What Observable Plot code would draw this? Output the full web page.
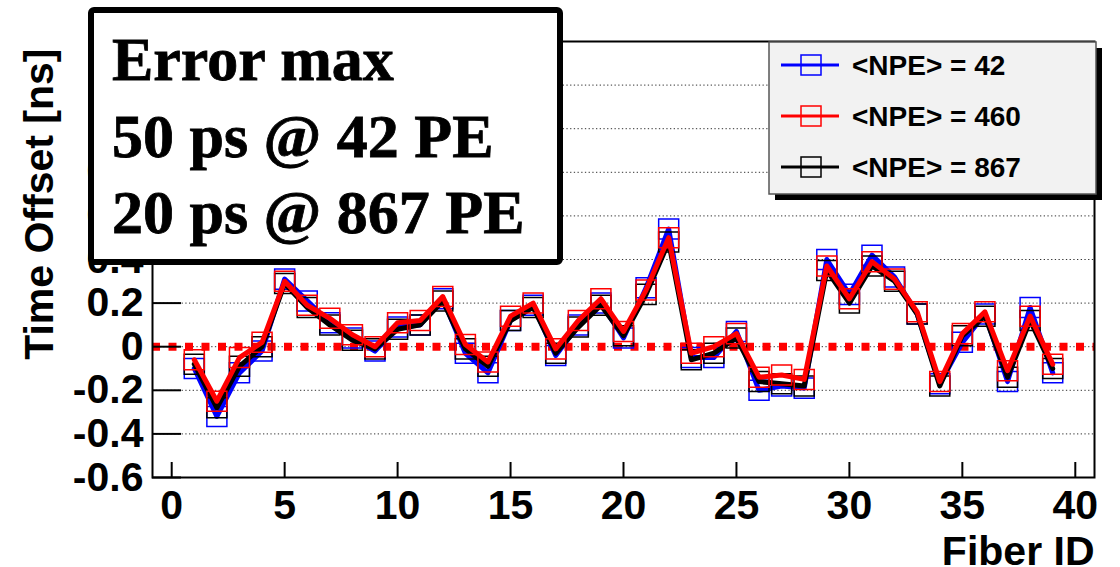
<!DOCTYPE html>
<html><head><meta charset="utf-8">
<script src="https://cdn.jsdelivr.net/npm/d3@7"></script>
<script src="https://cdn.jsdelivr.net/npm/@observablehq/plot@0.6"></script>
<style>html,body{margin:0;padding:0;background:#fff;} #chart{width:1120px;height:567px;overflow:hidden;}</style>
</head><body><div id="chart"></div>
<script>
const fiberIds = [1,2,3,4,5,6,7,8,9,10,11,12,13,14,15,16,17,18,19,20,21,22,23,24,25,26,27,28,29,30,31,32,33,34,35,36,37,38,39];
const npe42  = [-0.10,-0.32,-0.12,-0.02,0.31,0.21,0.11,0.04,-0.02,0.09,0.10,0.22,-0.03,-0.12,0.12,0.19,-0.04,0.10,0.20,0.04,0.27,0.54,-0.05,-0.05,0.07,-0.20,-0.18,-0.19,0.40,0.24,0.42,0.32,0.15,-0.17,0.02,0.15,-0.16,0.18,-0.12];
const npe460 = [-0.06,-0.25,-0.05,0.02,0.30,0.19,0.13,0.055,0.00,0.11,0.12,0.23,0.01,-0.07,0.14,0.20,-0.01,0.12,0.22,0.07,0.26,0.50,-0.03,0.00,0.06,-0.14,-0.13,-0.15,0.37,0.22,0.39,0.31,0.16,-0.16,0.06,0.16,-0.11,0.14,-0.08];
const npe867 = [-0.08,-0.28,-0.09,0.00,0.29,0.18,0.10,0.03,-0.01,0.08,0.10,0.21,-0.01,-0.09,0.12,0.18,-0.03,0.09,0.19,0.05,0.24,0.48,-0.06,-0.03,0.04,-0.16,-0.17,-0.18,0.35,0.20,0.37,0.30,0.15,-0.18,0.05,0.14,-0.14,0.12,-0.10];
const xTicks = [0,5,10,15,20,25,30,35,40];
const yTicks = [-0.6,-0.4,-0.2,0,0.2,0.4,0.6,0.8,1,1.2,1.4];
const seriesNames = ["<NPE> = 42","<NPE> = 460","<NPE> = 867"];
const seriesColors = ["#0000ff","#ff0000","#000000"];
const boxLines = ["Error max","50 ps @ 42 PE","20 ps @ 867 PE"];
const xLabel = "Fiber ID";
const yLabel = "Time Offset [ns]";

const seriesValues = [npe42, npe460, npe867];
const rowsFor = (i) => fiberIds.map((f, j) => ({fiber: f, value: seriesValues[i][j]}));
const drawOrder = [0, 2, 1];

const sans = "'Liberation Sans', Arial, Helvetica, sans-serif";
const serif = "'Liberation Serif', 'Times New Roman', Times, serif";

const marks = [
  Plot.ruleY(yTicks, {stroke: "#333", strokeWidth: 1, strokeDasharray: "1.3,2.4"}),
  Plot.ruleY([0], {stroke: "#ff0000", strokeWidth: 8, strokeDasharray: "8,8.5"})
];
for (const i of drawOrder) {
  const rows = rowsFor(i);
  marks.push(Plot.line(rows, {x: "fiber", y: "value", stroke: seriesColors[i], strokeWidth: 5, strokeLinejoin: "round"}));
  marks.push(Plot.dot(rows, {x: "fiber", y: "value", symbol: "square", r: 11.3, stroke: seriesColors[i], strokeWidth: 1.5, fill: "none"}));
}
marks.push(Plot.frame({stroke: "#000", strokeWidth: 2}));
marks.push(Plot.axisY(yTicks, {anchor: "left", tickSize: -29, tickPadding: 38, tickFormat: d => String(d), fontSize: 41, fontWeight: "bold", label: null, strokeWidth: 2}));
marks.push(Plot.axisX(xTicks, {anchor: "bottom", tickSize: -15, tickPadding: 27, tickFormat: d => String(d), fontSize: 41, fontWeight: "bold", label: null, strokeWidth: 2}));
marks.push(Plot.text([xLabel], {text: d => d, frameAnchor: "bottom-right", textAnchor: "end", lineAnchor: "middle", dy: 74, fontSize: 41, fontWeight: "bold"}));
marks.push(Plot.text([yLabel], {text: d => d, frameAnchor: "top-left", rotate: -90, textAnchor: "end", lineAnchor: "middle", dx: -113, dy: 7, fontSize: 41, fontWeight: "bold"}));

const svg = Plot.plot({
  width: 1120, height: 567,
  marginLeft: 152, marginRight: 26, marginTop: 41, marginBottom: 90,
  x: {domain: [-0.85, 40.85]},
  y: {domain: [-0.6, 1.4]},
  style: {background: "#fff", color: "#000", fontFamily: sans, overflow: "visible"},
  marks
});
document.getElementById("chart").appendChild(svg);

const root = d3.select(svg);
// Annotation box
const box = root.append("g").attr("text-anchor", "start");
box.append("rect").attr("x", 91).attr("y", 10).attr("width", 469).attr("height", 252).attr("rx", 3)
  .attr("fill", "#fff").attr("stroke", "#000").attr("stroke-width", 6);
box.selectAll("text").data(boxLines).join("text")
  .attr("x", 112).attr("y", (d, i) => 80 + i * 76.5)
  .attr("text-anchor", "start")
  .attr("font-family", serif).attr("font-weight", "bold").attr("font-size", 62).attr("fill", "#000")
  .attr("stroke", "#000").attr("stroke-width", 0.8)
  .text(d => d);

// Legend
const leg = root.append("g").attr("text-anchor", "start");
leg.append("rect").attr("x", 775).attr("y", 48).attr("width", 327).attr("height", 152).attr("fill", "#000");
leg.append("rect").attr("x", 769).attr("y", 42).attr("width", 327).attr("height", 152)
  .attr("fill", "#f2f2f2").attr("stroke", "#555").attr("stroke-width", 1.5);
seriesNames.forEach((name, i) => {
  const cy = 65 + i * 51;
  leg.append("line").attr("x1", 781).attr("x2", 839).attr("y1", cy).attr("y2", cy)
    .attr("stroke", seriesColors[i]).attr("stroke-width", 3);
  leg.append("rect").attr("x", 801).attr("y", cy - 10).attr("width", 20).attr("height", 20)
    .attr("fill", "none").attr("stroke", seriesColors[i]).attr("stroke-width", 1.5);
  leg.append("text").attr("x", 852).attr("y", cy + 10)
    .attr("text-anchor", "start")
    .attr("font-family", sans).attr("font-weight", "bold").attr("font-size", 28).attr("fill", "#000")
    .text(name);
});
</script>
</body></html>
